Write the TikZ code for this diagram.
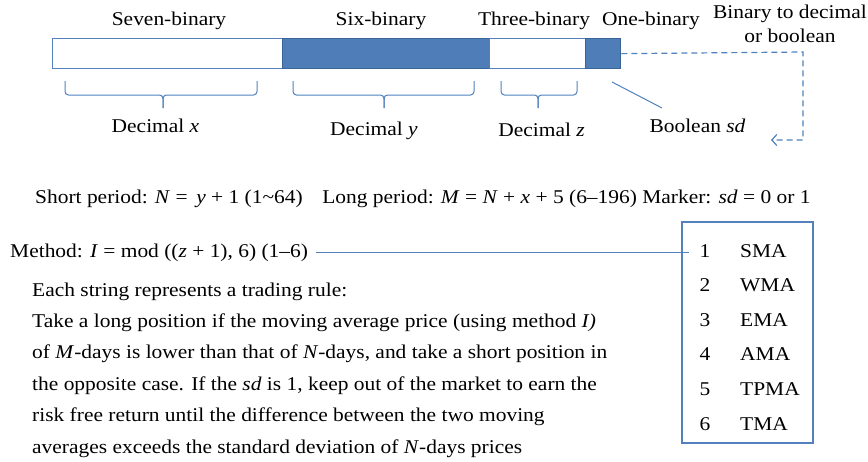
\documentclass[tikz,border=0pt]{standalone}
\usepackage{fontspec}
\setmainfont{Liberation Serif}[FakeStretch=1.1]
\usetikzlibrary{arrows.meta}
\definecolor{barfill}{RGB}{79,125,183}
\definecolor{bardraw}{RGB}{58,99,150}
\definecolor{whitedraw}{RGB}{84,128,190}
\definecolor{linecol}{RGB}{79,129,189}
\newcommand\drawbrace[3]{%
  \draw[bracestyle] (#1,81) -- (#1,95) -- (#3,95) -- (#3,108);
  \draw[bracestyle] (#2,81) -- (#2,95) -- (#3,95) -- (#3,108);}
\begin{document}
\begin{tikzpicture}[x=1pt,y=-1pt,
  whitebar/.style={draw=whitedraw,fill=white,line width=1.3pt,minimum height=30pt,inner sep=0pt,anchor=north west},
  bluebar/.style={draw=bardraw,fill=barfill,line width=1.3pt,minimum height=30pt,inner sep=0pt,anchor=north west},
  lbl/.style={font=\fontsize{19.5}{23}\selectfont,inner sep=0pt,anchor=base},
  txt/.style={font=\fontsize{19.5}{22}\selectfont,inner sep=0pt,anchor=base west},
  bracestyle/.style={draw=linecol,line width=1pt,rounded corners=3.5pt},
  conn/.style={draw=linecol,line width=1pt},
  dashconn/.style={draw=linecol,line width=1.2pt,dash pattern=on 6pt off 4pt},
  tablebox/.style={draw=whitedraw,line width=1.3pt,minimum width=131pt,minimum height=221pt,inner sep=0pt}]
\useasboundingbox (0,0) rectangle (868,461);
% bar
\node[whitebar,minimum width=230pt] (seven) at (52,38) {};
\node[bluebar,minimum width=207pt] (six) at (282,38) {};
\node[whitebar,minimum width=96pt] (three) at (489,38) {};
\node[bluebar,minimum width=35pt] (one) at (585,38) {};
% labels above
\node[lbl] (lseven) at (169,25) {Seven-binary};
\node[lbl] (lsix) at (381,25) {Six-binary};
\node[lbl] (lthree) at (534,25) {Three-binary};
\node[lbl] (lone) at (651,25) {One-binary};
\node[lbl] (lconv1) at (790,18) {Binary to decimal};
\node[lbl] (lconv2) at (790,42) {or boolean};
% braces
\drawbrace{65}{257}{163}
\drawbrace{293}{474}{384}
\drawbrace{501}{577}{538}
% labels below
\node[lbl] (dx) at (155.5,132) {Decimal \textit{x}};
\node[lbl] (dy) at (374,135) {Decimal \textit{y}};
\node[lbl] (dz) at (541.5,136) {Decimal \textit{z}};
\node[lbl] (bsd) at (697.5,132) {Boolean \textit{sd}};
% boolean pointer
\coordinate (bs) at (612,82);
\coordinate (be) at (662,108);
\draw[conn] (bs) -- (be);
% dashed return
\coordinate (dc1) at (803,52);
\coordinate (dc2) at (803,140);
\coordinate (dend) at (771,140);
\draw[dashconn,-{Straight Barb[length=5pt,width=11pt]}] (one.east) -- (dc1) -- (dc2) -- (dend);
% period line
\node[txt] (period) at (35,203) {Short period: \textit{N} = \,\textit{y} + 1 (1\textasciitilde 64)\quad Long period: \textit{M} = \textit{N} + \textit{x} + 5 (6–196) Marker: \textit{sd} = 0 or 1};
% method
\node[txt] (method) at (10,257) {Method: \textit{I} = mod ((\textit{z} + 1), 6) (1–6)};
\node[tablebox] (methods) at (747.5,332.5) {};
\draw[conn] ([xshift=8pt]method.east) -- ([xshift=8pt]method.east -| methods.west);
% table items
\foreach \n/\name [count=\i from 0] in {1/SMA,2/WMA,3/EMA,4/AMA,5/TPMA,6/TMA}{
  \node[txt,anchor=base] (num\n) at (705,257+34.6*\i) {\n};
  \node[txt] (nm\n) at (740,257+34.6*\i) {\name};
}
% paragraph
\node[txt] (p1) at (32,296) {Each string represents a trading rule:};
\node[txt] (p2) at (32,327.4) {Take a long position if the moving average price (using method \textit{I)}};
\node[txt] (p3) at (32,358.8) {of \textit{M}-days is lower than that of \textit{N}-days, and take a short position in};
\node[txt] (p4) at (32,390.2) {the opposite case. If the \textit{sd} is 1, keep out of the market to earn the};
\node[txt] (p5) at (32,421.6) {risk free return until the difference between the two moving};
\node[txt] (p6) at (32,453) {averages exceeds the standard deviation of \textit{N}-days prices};
\end{tikzpicture}
\end{document}
